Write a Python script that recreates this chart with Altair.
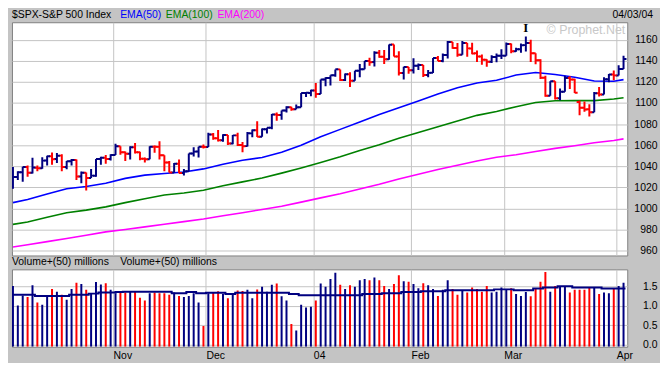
import altair as alt
import pandas as pd

# ---------------- data ----------------
opens = [1020.2, 1029.9, 1034.4, 1039.3, 1033.8, 1038.7, 1038.1, 1045.4, 1049.5, 1046.8,
         1050.1, 1039.3, 1044.7, 1046.0, 1030.4, 1033.8, 1028.9, 1031.1, 1046.8, 1048.1,
         1046.9, 1050.7, 1059.0, 1053.3, 1051.8, 1058.1, 1053.2, 1047.1, 1046.6, 1058.5,
         1058.4, 1050.4, 1043.6, 1034.2, 1042.4, 1033.7, 1035.3, 1052.1, 1053.9, 1058.5,
         1058.2, 1070.1, 1066.6, 1064.7, 1069.7, 1061.5, 1069.3, 1060.2, 1059.1, 1071.2,
         1074.1, 1068.0, 1075.1, 1076.5, 1089.2, 1088.7, 1092.9, 1096.0, 1094.0, 1095.9,
         1109.5, 1109.6, 1111.9, 1108.5, 1122.2, 1123.7, 1126.3, 1131.9, 1121.9, 1127.2,
         1121.2, 1130.5, 1132.1, 1139.8, 1138.8, 1147.6, 1143.9, 1141.6, 1155.4, 1144.1,
         1128.5, 1134.1, 1131.1, 1135.3, 1136.0, 1126.5, 1128.6, 1142.8, 1139.8, 1145.5,
         1157.8, 1152.1, 1145.8, 1157.0, 1151.8, 1147.1, 1144.1, 1141.0, 1139.1, 1143.7,
         1144.9, 1144.9, 1156.0, 1149.1, 1151.0, 1154.9, 1156.9, 1147.2, 1140.6, 1123.9,
         1106.8, 1120.6, 1104.5, 1110.7, 1123.8, 1122.3, 1101.0, 1095.4, 1094.0, 1091.3,
         1109.2, 1108.1, 1122.5, 1127.0, 1126.2, 1132.2]
highs = [1039.3, 1035.2, 1039.5, 1040.8, 1048.0, 1040.8, 1048.5, 1050.0, 1053.1, 1052.5,
         1051.5, 1045.0, 1046.9, 1046.5, 1035.0, 1034.0, 1037.5, 1047.0, 1049.0, 1050.6,
         1051.5, 1061.4, 1059.0, 1054.0, 1058.9, 1062.0, 1053.7, 1048.2, 1059.1, 1059.6,
         1063.7, 1050.4, 1045.0, 1043.0, 1046.5, 1037.5, 1052.1, 1058.0, 1058.5, 1060.6,
         1071.7, 1071.5, 1074.3, 1070.4, 1069.7, 1069.6, 1071.9, 1063.0, 1072.6, 1074.8,
         1082.8, 1075.9, 1076.5, 1089.5, 1091.0, 1092.9, 1096.9, 1096.4, 1098.5, 1109.5,
         1109.8, 1112.6, 1118.9, 1122.4, 1124.5, 1126.4, 1131.9, 1131.9, 1127.9, 1129.1,
         1130.7, 1137.1, 1139.8, 1142.9, 1149.2, 1150.3, 1150.3, 1155.4, 1155.4, 1149.1,
         1134.4, 1134.2, 1142.4, 1137.4, 1136.0, 1131.2, 1142.8, 1144.5, 1147.0, 1158.9,
         1157.8, 1156.9, 1158.9, 1157.0, 1157.2, 1149.8, 1146.0, 1141.5, 1145.2, 1147.0,
         1151.1, 1157.5, 1156.5, 1152.4, 1156.5, 1163.2, 1159.9, 1147.3, 1141.4, 1125.9,
         1120.6, 1120.6, 1113.8, 1125.8, 1125.5, 1122.9, 1102.5, 1101.5, 1098.9, 1110.4,
         1115.3, 1124.4, 1127.6, 1130.8, 1135.7, 1144.8]
lows = [1018.7, 1026.9, 1025.4, 1030.0, 1033.1, 1035.2, 1037.7, 1040.8, 1041.4, 1043.2,
        1035.2, 1037.1, 1040.8, 1027.0, 1024.0, 1017.0, 1028.9, 1030.0, 1041.4, 1042.3,
        1045.4, 1050.7, 1051.0, 1044.9, 1046.5, 1052.0, 1045.6, 1043.5, 1046.6, 1052.9,
        1046.5, 1035.3, 1034.0, 1034.1, 1033.4, 1031.2, 1035.3, 1049.3, 1048.3, 1056.8,
        1058.2, 1065.2, 1063.5, 1063.2, 1060.1, 1060.9, 1059.2, 1053.4, 1058.8, 1067.6,
        1067.7, 1068.0, 1071.1, 1075.1, 1083.1, 1084.2, 1091.0, 1092.7, 1094.0, 1095.9,
        1105.6, 1106.4, 1105.1, 1108.5, 1115.8, 1116.5, 1124.9, 1120.9, 1120.9, 1115.2,
        1121.2, 1124.5, 1132.1, 1135.4, 1134.6, 1143.0, 1136.9, 1141.0, 1144.0, 1126.0,
        1122.4, 1127.7, 1127.9, 1131.3, 1124.7, 1124.4, 1128.4, 1139.8, 1138.6, 1142.3,
        1151.4, 1143.9, 1145.8, 1143.8, 1146.2, 1139.0, 1136.4, 1134.3, 1138.0, 1138.6,
        1141.8, 1144.9, 1147.3, 1148.6, 1147.7, 1148.8, 1139.0, 1136.8, 1122.7, 1105.9,
        1106.8, 1103.4, 1102.6, 1110.7, 1113.3, 1109.6, 1088.5, 1091.6, 1087.2, 1091.3,
        1106.1, 1108.1, 1119.7, 1121.5, 1126.2, 1132.2]
closes = [1029.85, 1034.35, 1039.25, 1033.78, 1038.73, 1038.06, 1045.35, 1049.48, 1046.76, 1050.07,
          1039.32, 1044.68, 1046.03, 1030.36, 1033.77, 1028.91, 1031.13, 1046.79, 1048.11, 1046.94,
          1050.71, 1059.02, 1053.25, 1051.81, 1058.05, 1053.21, 1047.11, 1046.57, 1058.53, 1058.41,
          1050.35, 1043.63, 1034.15, 1042.44, 1033.65, 1035.28, 1052.08, 1053.89, 1058.45, 1058.20,
          1070.12, 1066.62, 1064.73, 1069.72, 1061.50, 1069.30, 1060.18, 1059.05, 1071.21, 1074.14,
          1068.04, 1075.13, 1076.48, 1089.18, 1088.66, 1092.94, 1096.02, 1094.04, 1095.89, 1109.48,
          1109.64, 1111.92, 1108.48, 1122.22, 1123.67, 1126.33, 1131.92, 1121.86, 1127.23, 1121.22,
          1130.52, 1132.05, 1139.83, 1138.77, 1147.62, 1143.94, 1141.55, 1155.37, 1144.05, 1128.48,
          1134.11, 1131.13, 1135.26, 1136.03, 1126.52, 1128.59, 1142.76, 1139.81, 1145.54, 1157.76,
          1152.11, 1145.81, 1156.99, 1151.82, 1147.06, 1144.11, 1140.99, 1139.09, 1143.67, 1144.91,
          1144.94, 1155.97, 1149.10, 1151.03, 1154.87, 1156.86, 1147.20, 1140.58, 1123.89, 1106.78,
          1120.57, 1104.49, 1110.70, 1123.75, 1122.32, 1109.78, 1095.40, 1093.95, 1091.33, 1109.19,
          1108.06, 1122.47, 1127.00, 1126.21, 1132.17, 1141.81]
# bar colour per month: u = up (navy), d = down (red)
dir_oct = "uuududuududuududuuudu"
dir_nov = "uddudddudddduduuuud"
dir_dec = "uddududduuduuuduuduuuu"
dir_jan = "duuuududuuududduddud"
dir_feb = "uuduuduudduddddduuu"
dir_mar = "uduuudddduduuddddduduud"
dir_apr = "uu"
direction = list(dir_oct + dir_nov + dir_dec + dir_jan + dir_feb + dir_mar + dir_apr)
volumes = [1.52, 1.01, 1.27, 1.23, 1.54, 1.09, 1.03, 1.25, 1.44, 1.37,
           1.29, 1.16, 1.44, 1.60, 1.57, 1.42, 1.33, 1.62, 1.56, 1.59,
           1.42, 1.33, 1.36, 1.35, 1.38, 1.39, 1.21, 1.14, 1.33, 1.35,
           1.33, 1.33, 1.29, 1.35, 1.26, 1.23, 1.26, 1.33, 1.09, 0.48,
           1.33, 1.36, 1.38, 1.31, 1.20, 1.33, 1.40, 1.39, 1.42, 1.20,
           1.43, 1.50, 1.37, 1.55, 1.58, 1.25, 1.14, 0.53, 0.36, 1.03,
           0.96, 0.98, 1.14, 1.58, 1.50, 1.70, 1.86, 1.55, 1.44, 1.54,
           1.50, 1.67, 1.70, 1.67, 1.74, 1.67, 1.52, 1.44, 1.57, 1.80,
           1.64, 1.63, 1.57, 1.46, 1.59, 1.54, 1.44, 1.26, 1.42, 1.67,
           1.44, 1.29, 1.40, 1.35, 1.48, 1.44, 1.37, 1.52, 1.35, 1.37,
           1.48, 1.43, 1.46, 1.31, 1.26, 1.36, 1.25, 1.46, 1.63, 1.88,
           1.37, 1.52, 1.50, 1.50, 1.35, 1.42, 1.42, 1.42, 1.48, 1.48,
           1.31, 1.35, 1.33, 1.44, 1.52, 1.60]

ema_idx = [0, 3, 7, 11, 15, 19, 23, 27, 31, 35, 39, 43, 47, 51, 55, 59, 63,
           67, 71, 75, 79, 83, 87, 91, 95, 99, 103, 107, 111, 115, 119, 123, 125]
ema50 = [1005.5, 1008.5, 1013.8, 1018.7, 1020.8, 1023.9, 1028.5, 1031.6, 1033.1, 1034.6,
         1037.5, 1042.0, 1045.7, 1048.3, 1053.2, 1060.0, 1068.0, 1075.0, 1082.0, 1089.0,
         1095.5, 1102.0, 1108.5, 1114.5, 1119.0, 1121.5, 1126.5, 1129.0, 1127.0, 1124.5,
         1120.8, 1120.6, 1122.2]
ema100 = [984.9, 987.1, 991.7, 996.0, 998.4, 1001.5, 1005.5, 1009.2, 1012.8, 1014.7,
          1017.2, 1021.5, 1025.2, 1028.8, 1033.5, 1038.4, 1043.5, 1049.0, 1055.0, 1060.5,
          1066.5, 1072.0, 1077.5, 1083.0, 1088.3, 1092.0, 1096.5, 1100.5, 1102.2, 1102.3,
          1102.3, 1103.8, 1105.0]
ema200 = [963.4, 965.5, 968.5, 971.5, 974.5, 977.8, 980.0, 982.5, 985.0, 987.5,
          990.0, 993.0, 996.0, 999.0, 1002.0, 1006.0, 1010.0, 1014.0, 1018.5, 1023.0,
          1028.0, 1032.5, 1037.0, 1041.0, 1045.0, 1048.5, 1051.0, 1054.0, 1057.0, 1059.5,
          1062.3, 1064.5, 1066.0]

vma_idx = [0, 4.5, 11.5, 15.5, 17.5, 21, 22.5, 32.5, 35.5, 37.5, 39.5, 43.5, 45.5, 56.5,
           58.5, 71.5, 75.5, 79.5, 83.5, 88.5, 98.5, 102.5, 106.5, 108.5, 111.5, 114.5,
           120.5, 125.4]
vma_val = [1.29, 1.26, 1.29, 1.32, 1.35, 1.36, 1.37, 1.33, 1.36, 1.33, 1.34, 1.31, 1.34,
           1.31, 1.28, 1.31, 1.33, 1.36, 1.38, 1.41, 1.43, 1.41, 1.45, 1.48, 1.51, 1.48,
           1.45, 1.45]

month_names = ["Nov", "Dec", "04", "Feb", "Mar", "Apr"]
month_first_bar = [21, 40, 62, 82, 101, 124]
price_ticks = [960, 980, 1000, 1020, 1040, 1060, 1080, 1100, 1120, 1140, 1160]
vol_ticks = [0.0, 0.5, 1.0, 1.5]
marker_bar = [105]
marker_text = ["I"]

# ---------------- tables ----------------
n = len(closes)
bars = pd.DataFrame({
    "idx": list(range(n)), "open": opens, "high": highs, "low": lows,
    "close": closes, "dir": direction, "vol": volumes,
})
ema_df = pd.DataFrame({"idx": ema_idx, "e50": ema50, "e100": ema100, "e200": ema200})
vma_df = pd.DataFrame({"idx": vma_idx, "v": vma_val})
marker_df = pd.DataFrame({"idx": marker_bar, "y": [highs[i] for i in marker_bar], "t": marker_text})

FONT = "Liberation Sans"
GRID = "#c4c4c4"
NAVY = "#000080"
RED = "#ff0000"
W = 620
XDOM = [-0.2, 125.76]

grid_pos = [b - 0.5 for b in month_first_bar]
label_expr = " : ".join(
    f"datum.value == {p} ? '{m}'" for p, m in zip(grid_pos, month_names)
) + " : ''"

xscale = alt.Scale(domain=XDOM, nice=False, zero=False)
pscale = alt.Scale(domain=[955.4, 1176.6], nice=False, zero=False)
vscale = alt.Scale(domain=[-0.06, 1.95], nice=False, zero=False)
dir_color = alt.Color("dir:N", scale=alt.Scale(domain=["u", "d"], range=[NAVY, RED]), legend=None)

XPA = alt.Axis(values=grid_pos, labels=False, ticks=False, domain=False,
               grid=True, gridColor=GRID, title=None)
YPA = alt.Axis(orient="right", values=price_ticks, format="d", grid=True,
               gridColor=GRID, ticks=False, domain=False, labelAlign="right",
               labelPadding=30, labelFontSize=10.5, labelColor="black",
               labelFont=FONT, title=None, labelOverlap=False, labelFlush=False)


def px(field):
    return alt.X(field, scale=xscale, axis=XPA)


def py(field):
    return alt.Y(field, scale=pscale, axis=YPA)


base = alt.Chart(bars)
hl = base.mark_rule(strokeWidth=2, clip=True).encode(
    x=px("idx:Q"), y=py("low:Q"), y2="high:Q", color=dir_color)
otick = base.transform_calculate(xo="datum.idx - 0.6").mark_rule(strokeWidth=2, clip=True).encode(
    x=px("xo:Q"), x2="idx:Q", y=py("open:Q"), color=dir_color)
ctick = base.transform_calculate(xc="datum.idx + 0.6").mark_rule(strokeWidth=2, clip=True).encode(
    x=px("idx:Q"), x2="xc:Q", y=py("close:Q"), color=dir_color)

ema_base = alt.Chart(ema_df)
l50 = ema_base.mark_line(color="#0000ff", strokeWidth=1.6).encode(x=px("idx:Q"), y=py("e50:Q"))
l100 = ema_base.mark_line(color="#008000", strokeWidth=1.6).encode(x=px("idx:Q"), y=py("e100:Q"))
l200 = ema_base.mark_line(color="#ff00ff", strokeWidth=1.6).encode(x=px("idx:Q"), y=py("e200:Q"))

marker = alt.Chart(marker_df).mark_text(font="Liberation Serif", fontWeight="bold", fontSize=13,
                                        baseline="bottom", dy=-1, color="black").encode(
    x=px("idx:Q"), y=py("y:Q"), text="t:N")


def label(text, x, y, color="black", align="left", size=10.5):
    return alt.Chart(pd.DataFrame({"t": [text]})).mark_text(
        align=align, baseline="middle", fontSize=size, font=FONT, color=color
    ).encode(x=alt.value(x), y=alt.value(y), text="t:N")


header = [
    label("$SPX-S&P 500 Index", 0, -7),
    label("EMA(50)", 109, -7, "#0000ff"),
    label("EMA(100)", 155, -7, "#008000"),
    label("EMA(200)", 207, -7, "#ff00ff"),
    label("04/03/04", 646, -7, "black", "right"),
    label("\u00a9 Prophet.Net", 618, 8, "#c8c8c8", "right", 12.5),
]

price = alt.layer(l200, l100, l50, hl, otick, ctick, marker, *header).properties(width=W, height=235)

# ---------------- volume panel ----------------
XVA = alt.Axis(values=grid_pos, labelExpr=label_expr, labelAlign="left", labelFontSize=10.5,
               labelFont=FONT, labelColor="black", labelPadding=4, ticks=False,
               domain=False, grid=True, gridColor=GRID, title=None,
               labelFlush=False, labelOverlap=False)
YVA = alt.Axis(orient="right", values=vol_ticks, format=".1f", grid=True, gridColor=GRID,
               ticks=False, domain=False, labelAlign="right", labelPadding=30,
               labelFontSize=10.5, labelColor="black", labelFont=FONT, title=None,
               labelOverlap=False, labelFlush=False)

vbars = alt.Chart(bars).mark_rule(strokeWidth=2, clip=True).encode(
    x=alt.X("idx:Q", scale=xscale, axis=XVA),
    y=alt.Y("vol:Q", scale=vscale, axis=YVA),
    y2=alt.datum(-0.06),
    color=dir_color,
)
vline = alt.Chart(vma_df).mark_line(interpolate="step-after", color=NAVY, strokeWidth=2).encode(
    x=alt.X("idx:Q", scale=xscale, axis=XVA), y=alt.Y("v:Q", scale=vscale, axis=YVA))

vol_labels = [
    label("Volume+(50) millions", 0, -7),
    label("Volume+(50) millions", 109, -7),
]

volume = alt.layer(vbars, vline, *vol_labels).properties(width=W, height=78)

chart = alt.vconcat(price, volume, spacing=14, bounds="flush").configure(
    background="#c4c4c4",
    padding={"left": 0, "top": 0, "right": 2, "bottom": 0},
    font=FONT,
).configure_view(
    stroke="#808080", strokeWidth=1, fill="white"
).configure_axis(
    labelOverlap=False, labelFlush=False
)

chart.save("out.html", embed_options={"renderer": "svg", "actions": False})
